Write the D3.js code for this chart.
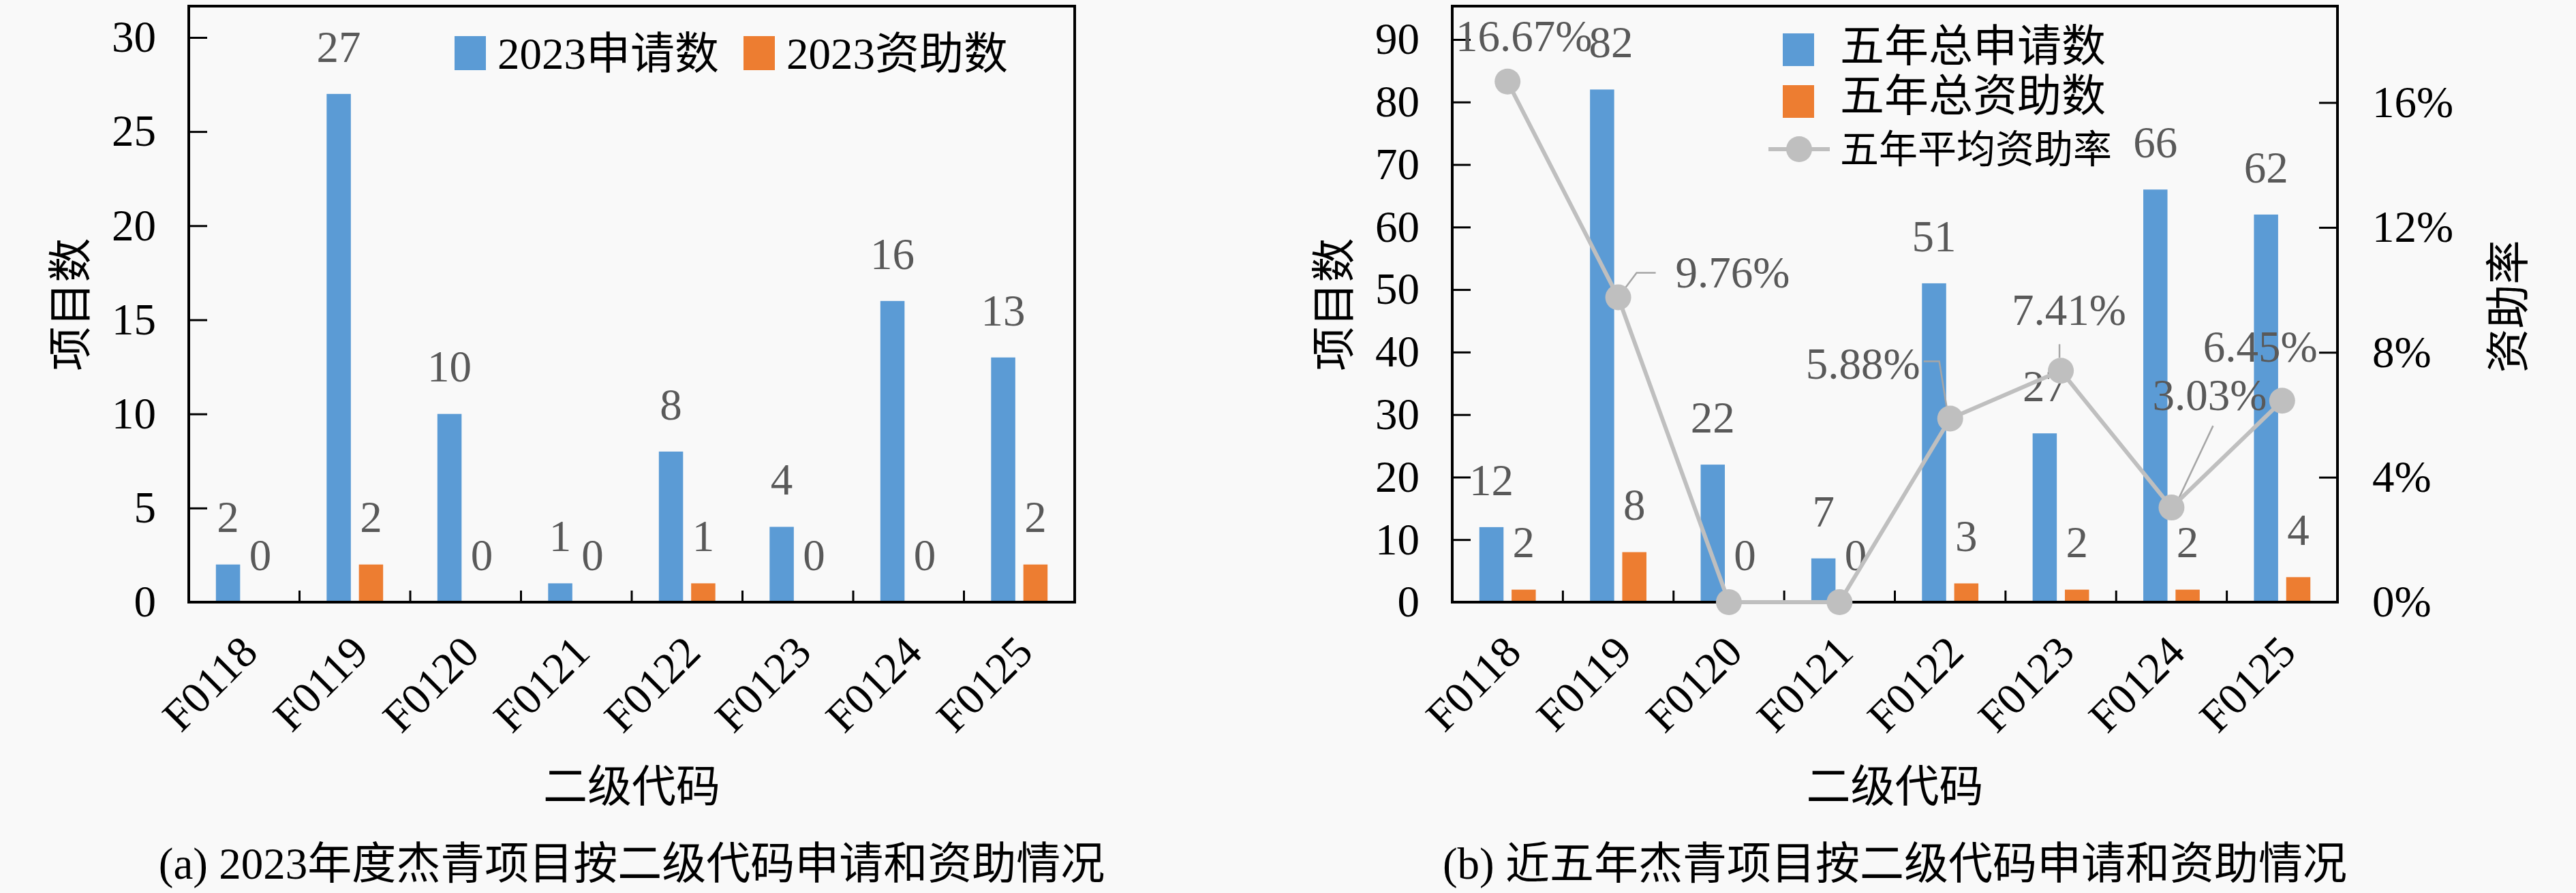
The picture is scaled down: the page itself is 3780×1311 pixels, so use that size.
<!DOCTYPE html>
<html>
<head>
<meta charset="utf-8">
<script src="https://cdn.jsdelivr.net/npm/d3@7"></script>
<style>
  html, body { margin: 0; padding: 0; background: #f9f9f9; }
  svg { display: block; }
  text { font-family: "Liberation Serif", "Noto Sans CJK SC", serif; }
</style>
</head>
<body>
<div id="chart"></div>
<script>
// ---- data ----
const codes = ['F0118', 'F0119', 'F0120', 'F0121', 'F0122', 'F0123', 'F0124', 'F0125'];
const apply2023 = [2, 27, 10, 1, 8, 4, 16, 13];
const fund2023 = [0, 2, 0, 0, 1, 0, 0, 2];
const apply5y = [12, 82, 22, 7, 51, 27, 66, 62];
const fund5y = [2, 8, 0, 0, 3, 2, 2, 4];
const rate5y = [0.1667, 0.0976, 0, 0, 0.0588, 0.0741, 0.0303, 0.0645];
const rateLabels = ['16.67%', '9.76%', '', '', '5.88%', '7.41%', '3.03%', '6.45%'];
const ticksA = [0, 5, 10, 15, 20, 25, 30];
const ticksB = [0, 10, 20, 30, 40, 50, 60, 70, 80, 90];
const ticksRate = [0, 0.04, 0.08, 0.12, 0.16];

// manual label placement: rate labels (offset from point), leader lines, nudged bar label
const rateLabelOffset = [[24, -68], [168, -37], null, null, [-128, -81], [12, -90], [56, -166], [-32, -80]];
const leaders = [null, [[0, 0], [27, -36], [55, -36]], null, null,
  [[-5, -16], [-16, -84], [-39, -84]], [[-2, -19], [-2, -39]], [[10, -12], [61, -120]], null];
const applyLabelDxB = [0, 13, 0, 0, 0, 0, 0, 0];

const W = 3780, H = 1311;
const FS = 65;
const blue = '#5b9bd5', orange = '#ed7d31', grey = '#bfbfbf', labelCol = '#595959';

const svg = d3.select('#chart').append('svg').attr('width', W).attr('height', H);
svg.append('rect').attr('width', W).attr('height', H).attr('fill', '#f9f9f9');

function panel(opt) {
  const left = opt.left, right = opt.right, top = 9, bottom = 884;
  const g = svg.append('g');

  const x0 = d3.scaleBand().domain(codes).range([left, right]);
  const x1 = d3.scaleBand().domain(['a', 'f'])
    .range([x0.bandwidth() * 0.245, x0.bandwidth() * 0.755]).paddingInner(0.25);
  const y = d3.scaleLinear().domain([0, opt.yMax]).range([bottom, opt.yTopPx]);

  // bars
  const rows = codes.map((c, i) => ({ c, a: opt.apply[i], f: opt.fund[i], dx: opt.labelDx[i] }));
  const grp = g.selectAll('g.cat').data(rows).join('g')
    .attr('transform', d => `translate(${x0(d.c)},0)`);
  grp.append('rect').attr('x', x1('a')).attr('width', x1.bandwidth())
    .attr('y', d => y(d.a)).attr('height', d => bottom - y(d.a)).attr('fill', blue);
  grp.append('rect').attr('x', x1('f')).attr('width', x1.bandwidth())
    .attr('y', d => y(d.f)).attr('height', d => bottom - y(d.f)).attr('fill', orange);

  // bar value labels
  grp.append('text').attr('x', d => x1('a') + x1.bandwidth() / 2 + d.dx).attr('y', d => y(d.a) - 70)
    .attr('dy', '0.35em').attr('text-anchor', 'middle').attr('fill', labelCol)
    .attr('font-size', FS).text(d => d.a);
  grp.append('text').attr('x', x1('f') + x1.bandwidth() / 2).attr('y', d => y(d.f) - 70)
    .attr('dy', '0.35em').attr('text-anchor', 'middle').attr('fill', labelCol)
    .attr('font-size', FS).text(d => d.f);

  // frame
  g.append('rect').attr('x', left).attr('y', top).attr('width', right - left).attr('height', bottom - top)
    .attr('fill', 'none').attr('stroke', '#000').attr('stroke-width', 4);

  // left axis (ticks inside)
  const ya = g.append('g').attr('transform', `translate(${left},0)`)
    .call(d3.axisLeft(y).tickValues(opt.ticks).tickSizeInner(-27).tickSizeOuter(0).tickPadding(48));
  ya.select('.domain').remove();
  ya.selectAll('line').attr('stroke-width', 3);
  ya.selectAll('text').attr('font-size', FS).attr('font-family', null).attr('fill', '#000');

  // category separators
  g.selectAll('line.sep').data(codes.slice(1)).join('line')
    .attr('x1', d => x0(d)).attr('x2', d => x0(d))
    .attr('y1', bottom).attr('y2', bottom - 17).attr('stroke', '#000').attr('stroke-width', 3);

  // category labels
  g.selectAll('text.cat').data(codes).join('text')
    .attr('transform', d => `translate(${x0(d) + x0.bandwidth() / 2 + 7},${bottom + 61}) rotate(-45)`)
    .attr('text-anchor', 'end').attr('dy', '0.35em').attr('font-size', FS).text(d => d);

  // titles
  const cx = (left + right) / 2;
  g.append('text').attr('transform', `translate(${left - 174},447) rotate(-90)`)
    .attr('text-anchor', 'middle').attr('dy', '0.35em').attr('font-size', FS).text('项目数');
  g.append('text').attr('x', cx).attr('y', 1154).attr('text-anchor', 'middle').attr('dy', '0.35em')
    .attr('font-size', FS).text('二级代码');
  g.append('text').attr('x', cx).attr('y', 1267).attr('text-anchor', 'middle').attr('dy', '0.35em')
    .attr('font-size', FS).text(opt.caption);

  return { g, x0, y, left, right, top, bottom };
}

// ---- (a) ----
const pa = panel({
  left: 277, right: 1577, apply: apply2023, fund: fund2023, labelDx: codes.map(() => 0),
  yMax: 30, yTopPx: 55, ticks: ticksA,
  caption: '(a) 2023年度杰青项目按二级代码申请和资助情况'
});
const legA = pa.g.append('g');
[['2023申请数', blue, 667], ['2023资助数', orange, 1091]].forEach(([t, c, lx]) => {
  legA.append('rect').attr('x', lx).attr('y', 53).attr('width', 46).attr('height', 50).attr('fill', c);
  legA.append('text').attr('x', lx + 63).attr('y', 78).attr('dy', '0.35em').attr('font-size', FS).text(t);
});

// ---- (b) ----
const pb = panel({
  left: 2131, right: 3430, apply: apply5y, fund: fund5y, labelDx: applyLabelDxB,
  yMax: 90, yTopPx: 58, ticks: ticksB,
  caption: '(b) 近五年杰青项目按二级代码申请和资助情况'
});
const yr = d3.scaleLinear().domain([0, 0.16]).range([pb.bottom, 150.5]);
const yra = pb.g.append('g').attr('transform', `translate(${pb.right},0)`)
  .call(d3.axisRight(yr).tickValues(ticksRate).tickFormat(d3.format('.0%'))
    .tickSizeInner(-27).tickSizeOuter(0).tickPadding(51));
yra.select('.domain').remove();
yra.selectAll('line').attr('stroke-width', 3);
yra.selectAll('text').attr('font-size', FS).attr('font-family', null).attr('fill', '#000');
pb.g.append('text').attr('transform', `translate(3680,450) rotate(-90)`)
  .attr('text-anchor', 'middle').attr('dy', '0.35em').attr('font-size', FS).text('资助率');

const pts = codes.map((c, i) => ({
  x: pb.x0(c) + pb.x0.bandwidth() / 2, y: yr(rate5y[i]), i
}));

// leader lines
pts.forEach(p => {
  if (!leaders[p.i]) return;
  pb.g.append('path')
    .attr('d', d3.line()(leaders[p.i].map(([dx, dy]) => [p.x + dx, p.y + dy])))
    .attr('fill', 'none').attr('stroke', '#a6a6a6').attr('stroke-width', 2.5);
});

pb.g.append('path').attr('d', d3.line().x(d => d.x).y(d => d.y)(pts))
  .attr('fill', 'none').attr('stroke', grey).attr('stroke-width', 6).attr('stroke-linejoin', 'round');
pb.g.selectAll('circle.pt').data(pts).join('circle')
  .attr('cx', d => d.x).attr('cy', d => d.y).attr('r', 19).attr('fill', grey);

pts.forEach(p => {
  const o = rateLabelOffset[p.i];
  if (!o) return;
  pb.g.append('text').attr('x', p.x + o[0]).attr('y', p.y + o[1]).attr('dy', '0.35em')
    .attr('text-anchor', 'middle').attr('fill', labelCol).attr('font-size', FS).text(rateLabels[p.i]);
});

// legend (b)
const legB = pb.g.append('g');
legB.append('rect').attr('x', 2616).attr('y', 49).attr('width', 46).attr('height', 48).attr('fill', blue);
legB.append('text').attr('x', 2700).attr('y', 67).attr('dy', '0.35em').attr('font-size', FS).text('五年总申请数');
legB.append('rect').attr('x', 2616).attr('y', 125).attr('width', 46).attr('height', 48).attr('fill', orange);
legB.append('text').attr('x', 2700).attr('y', 140).attr('dy', '0.35em').attr('font-size', FS).text('五年总资助数');
legB.append('line').attr('x1', 2595).attr('x2', 2685).attr('y1', 219).attr('y2', 219)
  .attr('stroke', grey).attr('stroke-width', 6);
legB.append('circle').attr('cx', 2640).attr('cy', 219).attr('r', 19).attr('fill', grey);
legB.append('text').attr('x', 2700).attr('y', 219).attr('dy', '0.35em').attr('font-size', 57).text('五年平均资助率');
</script>
</body>
</html>
